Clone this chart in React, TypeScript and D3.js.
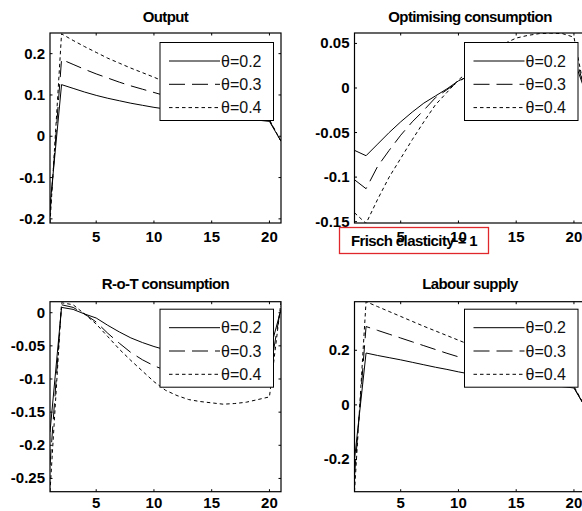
import React from 'react';
import * as d3 from 'd3';

const periods = [1, 2, 3, 4, 5, 6, 7, 8, 9, 10, 11, 12, 13, 14, 15, 16, 17, 18, 19, 20, 21];
const legendLabels = ['θ=0.2', 'θ=0.3', 'θ=0.4'];
const xTicks = [5, 10, 15, 20];

const outputT2 = [-0.17, 0.125, 0.116, 0.107, 0.099, 0.092, 0.086, 0.080, 0.075, 0.070, 0.066, 0.062, 0.058, 0.055, 0.051, 0.048, 0.045, 0.042, 0.039, 0.036, -0.012];
const outputT3 = [-0.19, 0.186, 0.174, 0.162, 0.151, 0.141, 0.131, 0.122, 0.114, 0.106, 0.098, 0.090, 0.083, 0.076, 0.069, 0.062, 0.056, 0.050, 0.044, 0.038, -0.012];
const outputT4 = [-0.21, 0.248, 0.232, 0.217, 0.203, 0.189, 0.177, 0.165, 0.154, 0.143, 0.131, 0.120, 0.109, 0.099, 0.089, 0.080, 0.071, 0.062, 0.052, 0.040, -0.012];

const optT2 = [-0.070, -0.076, -0.063, -0.050, -0.038, -0.027, -0.017, -0.009, -0.001, 0.008, 0.014, 0.018, 0.022, 0.025, 0.028, 0.030, 0.032, 0.033, 0.033, 0.032, -0.005];
const optT3 = [-0.103, -0.113, -0.088, -0.070, -0.053, -0.038, -0.025, -0.011, -0.002, 0.007, 0.015, 0.021, 0.027, 0.032, 0.036, 0.039, 0.041, 0.043, 0.043, 0.042, -0.005];
const optT4 = [-0.140, -0.152, -0.125, -0.100, -0.079, -0.058, -0.038, -0.019, -0.005, 0.009, 0.020, 0.031, 0.041, 0.050, 0.056, 0.059, 0.061, 0.0615, 0.061, 0.057, -0.008];

const rotT2 = [-0.18, 0.008, 0.005, -0.002, -0.008, -0.019, -0.029, -0.038, -0.045, -0.051, -0.056, -0.060, -0.063, -0.065, -0.066, -0.066, -0.066, -0.065, -0.063, -0.060, 0.005];
const rotT3 = [-0.23, 0.012, 0.008, -0.002, -0.014, -0.031, -0.046, -0.060, -0.071, -0.080, -0.087, -0.092, -0.096, -0.099, -0.100, -0.100, -0.100, -0.099, -0.097, -0.094, 0.010];
const rotT4 = [-0.27, 0.015, 0.012, -0.002, -0.017, -0.036, -0.055, -0.072, -0.088, -0.104, -0.117, -0.125, -0.131, -0.134, -0.136, -0.138, -0.137, -0.135, -0.131, -0.127, 0.016];

const labT2 = [-0.20, 0.190, 0.181, 0.173, 0.165, 0.156, 0.147, 0.138, 0.130, 0.121, 0.113, 0.106, 0.099, 0.093, 0.087, 0.082, 0.077, 0.072, 0.067, 0.062, -0.010];
const labT3 = [-0.26, 0.287, 0.273, 0.259, 0.245, 0.231, 0.217, 0.203, 0.189, 0.176, 0.163, 0.151, 0.139, 0.128, 0.117, 0.106, 0.096, 0.086, 0.076, 0.064, -0.010];
const labT4 = [-0.318, 0.378, 0.360, 0.342, 0.324, 0.306, 0.288, 0.271, 0.254, 0.237, 0.220, 0.203, 0.187, 0.171, 0.155, 0.139, 0.123, 0.107, 0.090, 0.068, -0.010];

const titles = ['Output', 'Optimising consumption', 'R-o-T consumption', 'Labour supply'];
const yDomains = [[-0.21, 0.25], [-0.1515, 0.0617], [-0.27, 0.0166], [-0.318, 0.378]];
const yTicks = [[-0.2, -0.1, 0, 0.1, 0.2], [-0.15, -0.1, -0.05, 0, 0.05], [-0.25, -0.2, -0.15, -0.1, -0.05, 0], [-0.2, 0, 0.2]];
const seriesSets = [[outputT2, outputT3, outputT4], [optT2, optT3, optT4], [rotT2, rotT3, rotT4], [labT2, labT3, labT4]];
const annotation = 'Frisch elasticity = 1';

// layout (pixels)
const boxes = [
  { x0: 50, x1: 281, y0: 33, y1: 223, titleY: 22, xlabY: 242 },
  { x0: 354.5, x1: 585.5, y0: 33, y1: 223, titleY: 22, xlabY: 242 },
  { x0: 50, x1: 281, y0: 301.7, y1: 491.7, titleY: 288.5, xlabY: 508 },
  { x0: 354.5, x1: 585.5, y0: 301.7, y1: 491.7, titleY: 288.5, xlabY: 508 },
];
const dashes = ['none', '16 7', '3.5 3'];
const FONT = '"Liberation Sans", Arial, Helvetica, sans-serif';

const fmt = (v: number) => {
  if (Math.abs(v) < 1e-9) return '0';
  return String(v);
};

function Panel({ i }: { i: number }) {
  const b = boxes[i];
  const x = d3.scaleLinear().domain([1, 21]).range([b.x0, b.x1]);
  const y = d3.scaleLinear().domain(yDomains[i]).range([b.y1, b.y0]);
  const line = d3.line<number>().x((_, k) => x(periods[k])).y((d) => y(d));
  const tl = 2.5;
  const lgW = 113.5, lgH = 78;
  const lgX = b.x1 - 7.5 - lgW;
  const lgY = b.y0 + 9.5 - (i >= 2 ? 2 : 0);
  const clipId = `clip${i}`;
  return (
    <g>
      <defs>
        <clipPath id={clipId}>
          <rect x={b.x0} y={b.y0} width={b.x1 - b.x0} height={b.y1 - b.y0} />
        </clipPath>
      </defs>
      <rect x={b.x0} y={b.y0} width={b.x1 - b.x0} height={b.y1 - b.y0} fill="#fff" />
      <g clipPath={`url(#${clipId})`}>
        {seriesSets[i].map((s, k) => (
          <path key={k} d={line(s) || ''} fill="none" stroke="#000" strokeWidth={1} strokeDasharray={dashes[k]} />
        ))}
      </g>
      {/* axis box */}
      <rect x={b.x0} y={b.y0} width={b.x1 - b.x0} height={b.y1 - b.y0} fill="none" stroke="#000" strokeWidth={1.2} />
      {xTicks.map((t) => (
        <g key={'x' + t}>
          <line x1={x(t)} x2={x(t)} y1={b.y1} y2={b.y1 - tl} stroke="#000" />
          <line x1={x(t)} x2={x(t)} y1={b.y0} y2={b.y0 + tl} stroke="#000" />
          <text x={x(t)} y={b.xlabY} textAnchor="middle" fontFamily={FONT} fontWeight="bold" fontSize={15} fill="#000">{t}</text>
        </g>
      ))}
      {yTicks[i].map((t) => (
        <g key={'y' + t}>
          <line x1={b.x0} x2={b.x0 + tl} y1={y(t)} y2={y(t)} stroke="#000" />
          <line x1={b.x1} x2={b.x1 - tl} y1={y(t)} y2={y(t)} stroke="#000" />
          <text x={b.x0 - 5} y={y(t) + 5} textAnchor="end" fontFamily={FONT} fontWeight="bold" fontSize={15} fill="#000">{fmt(t)}</text>
        </g>
      ))}
      <text x={(b.x0 + b.x1) / 2} y={b.titleY} textAnchor="middle" fontFamily={FONT} fontWeight="bold" fontSize={15} letterSpacing={-0.6} fill="#000">{titles[i]}</text>
      {/* legend */}
      <g>
        <rect x={lgX} y={lgY} width={lgW} height={lgH} fill="#fff" stroke="#000" strokeWidth={1} />
        {legendLabels.map((lab, k) => {
          const ry = lgY + 18.5 + k * 23.3;
          return (
            <g key={lab}>
              <line x1={lgX + 9} x2={lgX + 60} y1={ry} y2={ry} stroke="#000" strokeWidth={1} strokeDasharray={dashes[k]} />
              <text x={lgX + 61} y={ry + 5.5} fontFamily={FONT} fontSize={16} fill="#111">{lab}</text>
            </g>
          );
        })}
      </g>
    </g>
  );
}

export default function App() {
  return (
    <svg width={582} height={511} style={{ position: 'absolute', left: 0, top: 0, background: '#fff' }}>
      <rect x={0} y={0} width={582} height={511} fill="#fff" />
      {[0, 1, 2, 3].map((i) => (
        <Panel key={i} i={i} />
      ))}
      <rect x={339.5} y={227.5} width={149} height={26} fill="none" stroke="#e0282c" strokeWidth={1.3} />
      <text x={414} y={246} textAnchor="middle" fontFamily={FONT} fontWeight="bold" fontSize={15} letterSpacing={-0.6} fill="#000">{annotation}</text>
    </svg>
  );
}
